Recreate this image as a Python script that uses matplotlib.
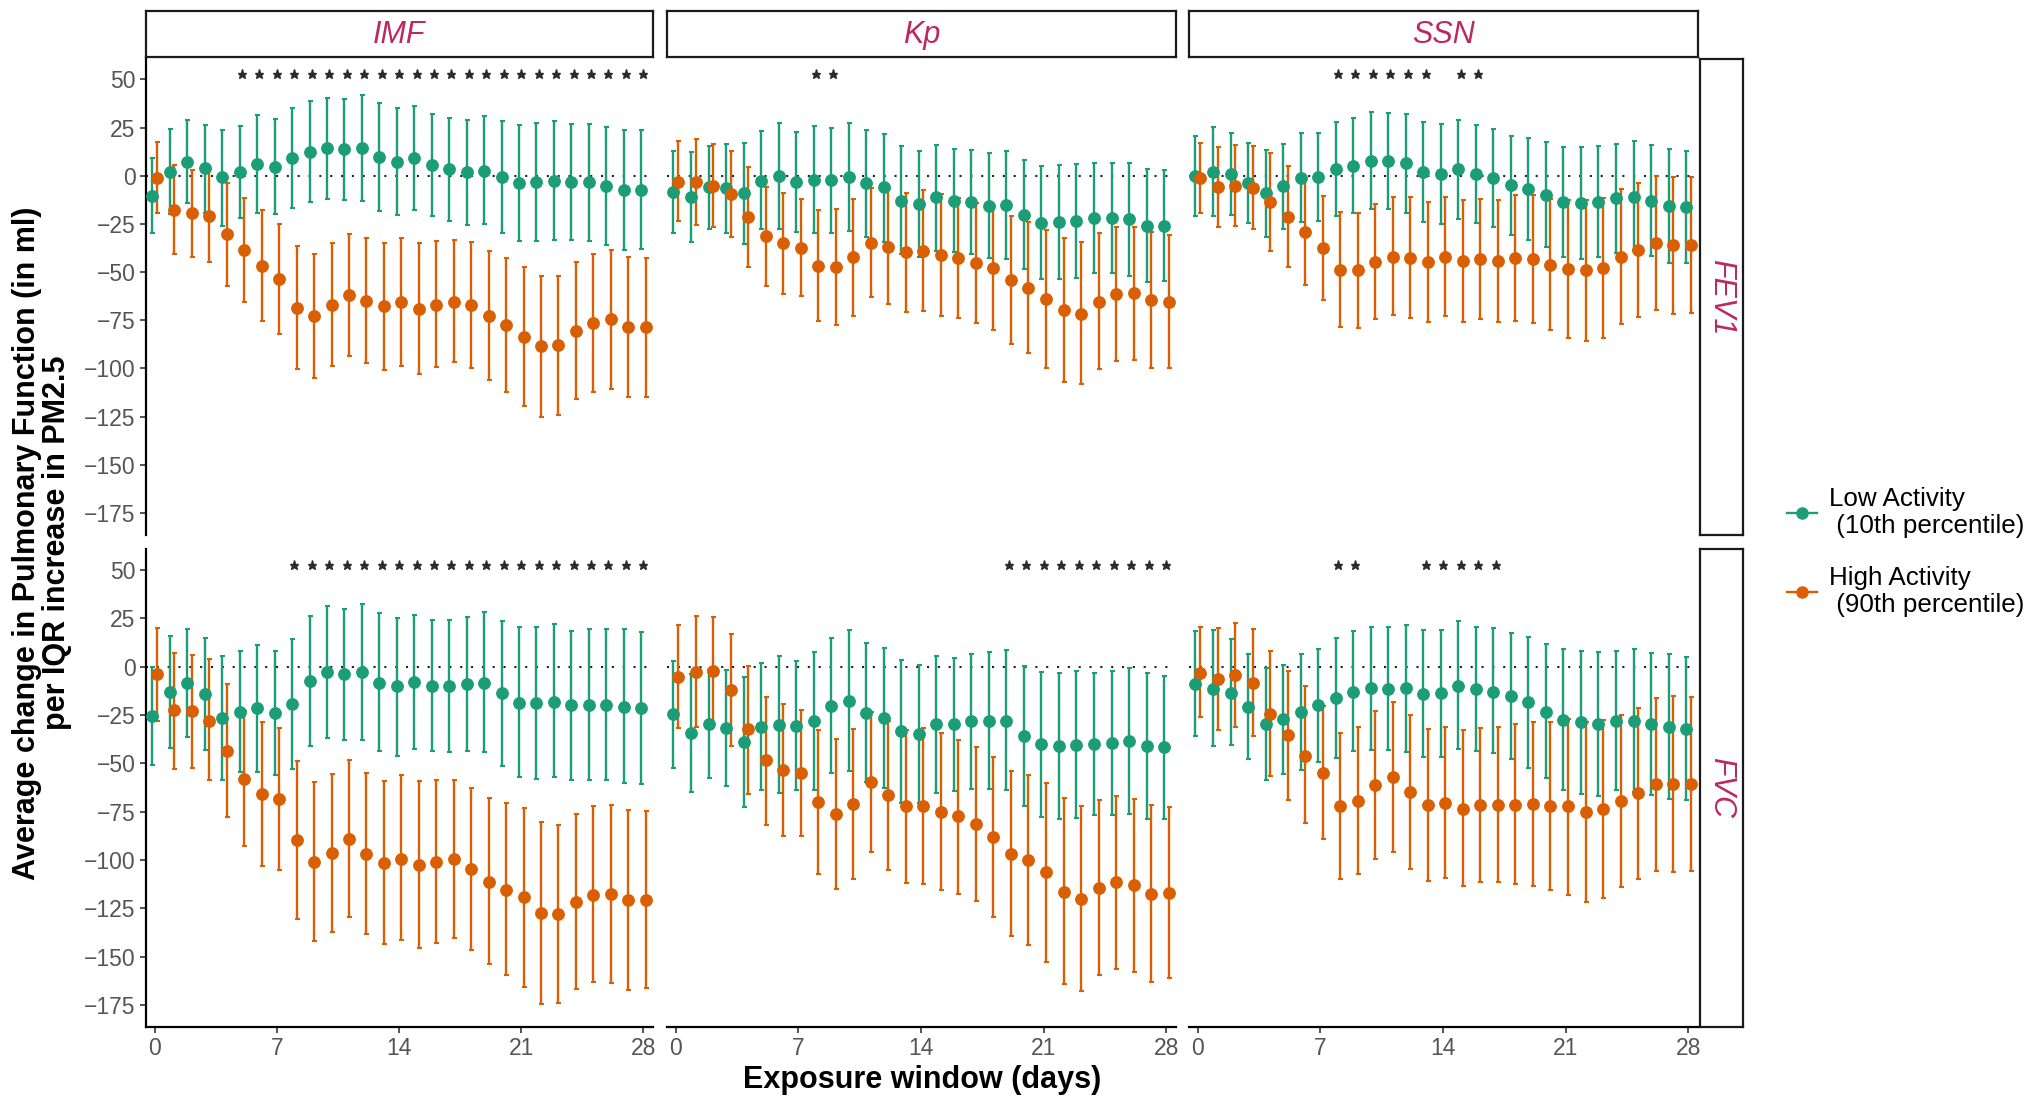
import matplotlib
matplotlib.use('Agg')
import matplotlib.pyplot as plt
from matplotlib.lines import Line2D
import numpy as np

plt.rcParams['font.family'] = ['Liberation Sans', 'DejaVu Sans']

# ---------------- data ----------------
DAYS = list(range(29))
INDICES = ['IMF', 'Kp', 'SSN']
OUTCOMES = ['FEV1', 'FVC']
GROUP_LABELS = ['Low Activity\n (10th percentile)', 'High Activity\n (90th percentile)']
X_TICKS = [0, 7, 14, 21, 28]
Y_TICKS = [50, 25, 0, -25, -50, -75, -100, -125, -150, -175]
STAR_Y = 52.5

# IMF / FEV1
IMF_FEV1_LOW_EST = [-10.4, 2.1, 7.3, 3.8, -0.9, 1.7, 5.9, 4.7, 9.3, 12.5, 14.2, 13.7, 14.5, 9.5, 7.1, 9.0, 5.5, 3.5, 1.7, 2.6, -0.5, -4.0, -3.5, -2.8, -3.5, -3.5, -5.5, -7.4, -7.4]
IMF_FEV1_LOW_LO = [-29.6, -20.0, -14.0, -19.5, -26.0, -22.0, -19.5, -20.0, -17.0, -13.7, -12.1, -12.6, -13.0, -18.3, -20.2, -18.0, -20.8, -23.4, -25.4, -25.3, -29.6, -33.9, -34.0, -33.4, -33.2, -33.9, -36.0, -38.4, -38.0]
IMF_FEV1_LOW_HI = [9.0, 24.2, 28.7, 26.1, 23.5, 26.0, 31.5, 29.2, 35.3, 38.8, 40.5, 39.8, 41.9, 37.5, 35.0, 36.0, 32.2, 29.8, 28.7, 30.8, 28.4, 26.3, 27.3, 28.4, 26.6, 27.0, 25.3, 23.7, 23.5]
IMF_FEV1_HIGH_EST = [-1.0, -17.8, -19.5, -20.9, -30.3, -38.8, -46.7, -53.6, -68.5, -72.7, -67.1, -62.1, -64.9, -67.8, -65.7, -68.9, -67.0, -65.6, -67.3, -72.7, -77.7, -83.6, -88.2, -87.9, -80.8, -76.6, -74.6, -78.4, -78.7]
IMF_FEV1_HIGH_LO = [-19.5, -40.7, -42.0, -45.0, -57.1, -65.7, -75.4, -82.0, -100.5, -104.8, -98.8, -93.4, -97.4, -100.9, -98.8, -102.8, -99.3, -96.9, -100.0, -106.0, -112.0, -119.6, -125.0, -123.9, -115.9, -112.0, -110.6, -114.7, -114.7]
IMF_FEV1_HIGH_HI = [17.5, 5.5, 2.9, 3.5, -3.6, -11.4, -17.6, -24.9, -36.7, -40.5, -35.0, -30.4, -32.5, -35.0, -32.5, -35.0, -33.9, -33.6, -34.6, -39.1, -42.9, -47.4, -51.9, -51.9, -45.0, -40.8, -38.4, -42.2, -42.9]
IMF_FEV1_STARS = [5, 6, 7, 8, 9, 10, 11, 12, 13, 14, 15, 16, 17, 18, 19, 20, 21, 22, 23, 24, 25, 26, 27, 28]

# Kp / FEV1
KP_FEV1_LOW_EST = [-8.7, -11.2, -6.1, -6.6, -9.2, -2.6, 0.0, -3.5, -2.2, -2.2, -0.5, -4.0, -6.1, -13.0, -14.9, -11.2, -13.0, -13.8, -15.6, -15.2, -20.4, -24.4, -24.2, -23.4, -22.1, -22.1, -22.7, -26.0, -26.0]
KP_FEV1_LOW_LO = [-29.9, -34.4, -27.9, -29.9, -35.3, -27.9, -27.5, -29.1, -29.6, -29.6, -28.7, -31.7, -34.3, -40.7, -42.2, -38.9, -39.6, -40.8, -42.9, -43.4, -48.4, -53.6, -53.5, -52.9, -50.7, -50.7, -51.9, -55.0, -54.5]
KP_FEV1_LOW_HI = [13.0, 12.3, 15.6, 16.3, 17.0, 23.2, 27.5, 22.7, 25.6, 24.9, 27.5, 23.9, 21.8, 15.6, 13.0, 16.1, 14.0, 13.3, 11.8, 13.0, 8.0, 4.8, 5.4, 5.9, 6.6, 6.6, 6.4, 3.3, 2.9]
KP_FEV1_HIGH_EST = [-3.1, -3.5, -5.4, -9.5, -21.6, -31.3, -35.1, -37.4, -46.9, -47.4, -42.4, -34.8, -37.2, -39.8, -38.9, -41.3, -42.6, -45.2, -48.1, -54.3, -58.3, -64.0, -69.9, -71.5, -65.4, -61.6, -61.1, -64.7, -65.4]
KP_FEV1_HIGH_LO = [-23.7, -25.4, -26.8, -32.0, -47.2, -57.1, -61.2, -62.5, -75.6, -77.7, -72.7, -63.1, -66.8, -70.8, -70.1, -72.8, -73.7, -76.3, -80.1, -87.4, -92.2, -99.8, -106.9, -108.3, -100.5, -96.2, -95.7, -100.0, -99.7]
KP_FEV1_HIGH_HI = [18.2, 18.9, 16.4, 13.0, 4.3, -5.7, -8.8, -12.1, -17.8, -17.1, -12.1, -6.4, -7.1, -9.2, -7.4, -9.7, -11.4, -14.2, -15.7, -20.8, -24.2, -28.0, -32.5, -34.3, -29.9, -26.5, -26.5, -29.1, -31.0]
KP_FEV1_STARS = [8, 9]

# SSN / FEV1
SSN_FEV1_LOW_EST = [0.0, 2.1, 0.9, -3.6, -9.2, -5.4, -1.4, -0.9, 3.5, 5.2, 7.8, 7.6, 6.4, 1.7, 0.9, 3.5, 0.9, -1.0, -4.8, -6.9, -10.0, -13.5, -14.0, -13.5, -11.8, -10.9, -13.0, -15.7, -16.1]
SSN_FEV1_LOW_LO = [-20.8, -21.1, -20.2, -24.6, -31.8, -27.7, -24.0, -23.5, -20.9, -19.4, -17.3, -17.3, -19.4, -24.0, -25.1, -22.5, -24.4, -26.5, -30.8, -33.4, -37.2, -42.0, -43.1, -42.4, -40.3, -38.6, -41.7, -45.2, -45.5]
SSN_FEV1_LOW_HI = [20.8, 25.1, 22.1, 17.0, 13.3, 16.3, 22.1, 22.1, 27.9, 29.8, 32.9, 32.7, 32.2, 27.9, 26.8, 29.1, 26.1, 24.2, 20.8, 19.6, 17.3, 15.1, 15.1, 15.6, 16.3, 17.8, 15.7, 13.7, 13.0]
SSN_FEV1_HIGH_EST = [-1.4, -6.1, -5.4, -6.2, -13.8, -21.3, -29.4, -37.7, -49.0, -49.0, -44.6, -42.0, -42.6, -44.6, -42.4, -44.1, -43.3, -44.1, -42.9, -43.3, -46.4, -48.6, -49.1, -48.1, -42.0, -38.6, -34.8, -36.2, -36.2]
SSN_FEV1_HIGH_LO = [-19.5, -26.8, -26.1, -27.9, -39.1, -47.4, -56.9, -64.7, -78.7, -78.9, -74.6, -72.5, -73.7, -75.8, -73.0, -75.8, -74.6, -75.8, -75.3, -76.6, -80.1, -84.3, -85.6, -84.3, -77.0, -73.2, -69.7, -71.8, -71.3]
SSN_FEV1_HIGH_HI = [16.8, 14.7, 15.7, 15.6, 11.6, 5.2, -1.4, -10.4, -19.0, -19.4, -14.7, -11.1, -11.1, -13.5, -11.1, -12.5, -11.9, -12.5, -10.2, -9.9, -12.1, -12.8, -12.8, -11.4, -6.9, -4.0, 0.0, -0.5, -0.5]
SSN_FEV1_STARS = [8, 9, 10, 11, 12, 13, 15, 16]

# IMF / FVC
IMF_FVC_LOW_EST = [-25.8, -13.3, -8.6, -14.3, -26.7, -23.4, -21.5, -24.1, -19.3, -7.7, -2.9, -4.0, -2.9, -8.3, -10.3, -8.1, -10.3, -10.3, -9.1, -8.3, -13.9, -18.6, -18.9, -18.1, -19.8, -19.8, -19.8, -20.7, -21.5]
IMF_FVC_LOW_LO = [-50.8, -42.0, -36.5, -43.4, -58.5, -54.4, -54.6, -55.9, -53.0, -41.3, -37.0, -37.9, -38.2, -43.9, -46.0, -42.7, -43.9, -44.4, -43.9, -44.4, -51.3, -57.3, -58.2, -57.3, -58.5, -58.5, -58.9, -60.2, -60.9]
IMF_FVC_LOW_HI = [0.0, 15.7, 19.3, 14.8, 5.7, 7.9, 11.4, 7.9, 14.5, 26.0, 31.2, 29.6, 32.4, 27.5, 25.1, 26.5, 23.9, 23.9, 25.6, 28.2, 23.6, 20.3, 20.3, 22.0, 18.6, 19.3, 19.3, 19.3, 17.9]
IMF_FVC_HIGH_EST = [-3.8, -22.7, -22.9, -28.1, -43.5, -58.0, -66.1, -68.3, -89.8, -101.0, -96.4, -89.0, -96.7, -101.5, -99.3, -102.8, -101.0, -99.5, -104.6, -111.2, -115.3, -119.3, -127.7, -128.2, -121.7, -117.9, -117.6, -120.8, -120.5]
IMF_FVC_HIGH_LO = [-28.1, -53.0, -52.2, -58.9, -78.0, -92.9, -103.3, -105.3, -130.5, -142.0, -137.3, -129.4, -138.2, -143.7, -141.5, -145.8, -143.2, -140.3, -146.6, -153.7, -159.6, -165.6, -174.4, -174.2, -166.6, -163.3, -163.5, -167.3, -166.4]
IMF_FVC_HIGH_HI = [19.8, 7.2, 6.2, 3.8, -9.0, -23.1, -28.9, -31.7, -48.9, -59.9, -55.8, -48.4, -55.1, -59.2, -56.3, -59.2, -58.5, -58.5, -62.8, -68.0, -70.6, -73.0, -80.6, -82.1, -76.4, -72.3, -71.8, -74.4, -74.7]
IMF_FVC_STARS = [8, 9, 10, 11, 12, 13, 14, 15, 16, 17, 18, 19, 20, 21, 22, 23, 24, 25, 26, 27, 28]

# Kp / FVC
KP_FVC_LOW_EST = [-24.4, -34.4, -29.6, -31.8, -39.1, -31.3, -30.1, -30.5, -28.4, -20.3, -17.7, -23.8, -26.7, -33.2, -34.8, -29.8, -29.8, -28.4, -28.1, -28.1, -35.8, -40.1, -41.0, -40.4, -39.9, -39.6, -38.4, -41.3, -41.8]
KP_FVC_LOW_LO = [-52.3, -64.9, -57.7, -61.8, -72.8, -64.0, -65.4, -64.0, -63.7, -55.1, -54.2, -59.9, -62.8, -70.6, -70.6, -65.4, -64.5, -63.3, -63.2, -63.7, -71.9, -77.8, -78.8, -78.3, -76.9, -76.6, -76.1, -78.8, -78.8]
KP_FVC_LOW_HI = [3.1, -4.1, -1.7, -1.7, -5.2, 1.7, 5.3, 3.1, 7.4, 14.8, 18.8, 12.4, 9.6, 3.6, 0.9, 5.5, 4.6, 6.5, 7.4, 8.6, 0.5, -2.6, -3.4, -2.2, -3.1, -2.1, -0.5, -3.4, -4.8]
KP_FVC_HIGH_EST = [-5.2, -2.6, -2.1, -12.0, -32.4, -48.5, -53.4, -55.1, -70.1, -76.2, -70.9, -59.7, -66.6, -72.3, -72.3, -75.2, -77.5, -81.4, -88.1, -96.9, -100.2, -106.4, -116.5, -120.0, -114.5, -111.5, -113.1, -117.6, -117.0]
KP_FVC_HIGH_LO = [-31.8, -31.5, -29.6, -41.0, -65.7, -81.8, -87.4, -87.4, -107.1, -115.0, -109.8, -96.0, -105.0, -111.9, -112.2, -115.7, -117.4, -121.0, -129.4, -139.4, -144.1, -152.7, -164.4, -167.8, -159.7, -156.3, -157.8, -163.2, -161.3]
KP_FVC_HIGH_HI = [21.5, 26.3, 25.8, 16.9, 0.5, -15.5, -19.3, -22.7, -32.7, -37.5, -32.2, -23.6, -28.4, -33.0, -31.8, -34.4, -37.9, -41.7, -46.8, -53.9, -55.9, -60.1, -68.0, -72.3, -68.8, -66.8, -68.3, -71.8, -72.6]
KP_FVC_STARS = [19, 20, 21, 22, 23, 24, 25, 26, 27, 28]

# SSN / FVC
SSN_FVC_LOW_EST = [-8.9, -11.5, -13.8, -20.7, -29.8, -27.2, -23.6, -19.8, -16.0, -12.9, -11.2, -11.5, -11.2, -14.1, -13.8, -9.8, -11.7, -12.9, -15.1, -18.4, -23.6, -27.5, -28.9, -29.8, -28.1, -27.9, -29.8, -31.3, -32.2]
SSN_FVC_LOW_LO = [-35.8, -41.3, -40.4, -47.7, -58.5, -55.6, -53.7, -49.1, -47.3, -43.9, -43.0, -43.4, -44.2, -47.0, -47.0, -42.5, -43.5, -44.8, -47.8, -52.2, -57.8, -63.7, -65.7, -66.8, -64.0, -64.9, -66.3, -68.5, -69.2]
SSN_FVC_LOW_HI = [18.4, 18.9, 14.3, 6.4, -0.5, 0.9, 6.5, 9.1, 15.0, 18.4, 20.7, 20.3, 21.5, 18.9, 18.9, 23.6, 20.3, 19.8, 17.6, 15.3, 11.5, 9.0, 8.1, 7.4, 8.1, 9.0, 7.1, 6.4, 5.2]
SSN_FVC_HIGH_EST = [-3.1, -6.5, -4.3, -8.6, -24.4, -35.6, -46.0, -55.1, -72.3, -69.4, -61.4, -57.1, -64.9, -71.4, -70.6, -73.5, -71.4, -71.4, -71.4, -71.1, -72.3, -72.3, -75.4, -73.7, -69.7, -65.4, -60.8, -60.6, -60.8]
SSN_FVC_HIGH_LO = [-26.2, -33.0, -31.0, -36.1, -56.8, -68.8, -80.9, -89.2, -109.8, -107.1, -99.5, -95.9, -104.5, -111.0, -109.3, -113.6, -111.4, -111.5, -112.7, -113.3, -115.7, -117.9, -121.9, -119.9, -114.1, -109.8, -105.5, -106.2, -105.5]
SSN_FVC_HIGH_HI = [20.3, 20.1, 22.7, 19.3, 8.3, -2.1, -10.0, -20.3, -34.1, -31.5, -23.2, -18.4, -25.0, -32.2, -31.0, -33.0, -31.8, -31.3, -29.8, -28.9, -28.9, -27.2, -28.9, -27.5, -25.3, -21.2, -16.4, -15.0, -15.5]
SSN_FVC_STARS = [8, 9, 13, 14, 15, 16, 17]

PANELS = {
    ('FEV1', 'IMF'): (IMF_FEV1_LOW_EST, IMF_FEV1_LOW_LO, IMF_FEV1_LOW_HI, IMF_FEV1_HIGH_EST, IMF_FEV1_HIGH_LO, IMF_FEV1_HIGH_HI, IMF_FEV1_STARS),
    ('FEV1', 'Kp'): (KP_FEV1_LOW_EST, KP_FEV1_LOW_LO, KP_FEV1_LOW_HI, KP_FEV1_HIGH_EST, KP_FEV1_HIGH_LO, KP_FEV1_HIGH_HI, KP_FEV1_STARS),
    ('FEV1', 'SSN'): (SSN_FEV1_LOW_EST, SSN_FEV1_LOW_LO, SSN_FEV1_LOW_HI, SSN_FEV1_HIGH_EST, SSN_FEV1_HIGH_LO, SSN_FEV1_HIGH_HI, SSN_FEV1_STARS),
    ('FVC', 'IMF'): (IMF_FVC_LOW_EST, IMF_FVC_LOW_LO, IMF_FVC_LOW_HI, IMF_FVC_HIGH_EST, IMF_FVC_HIGH_LO, IMF_FVC_HIGH_HI, IMF_FVC_STARS),
    ('FVC', 'Kp'): (KP_FVC_LOW_EST, KP_FVC_LOW_LO, KP_FVC_LOW_HI, KP_FVC_HIGH_EST, KP_FVC_HIGH_LO, KP_FVC_HIGH_HI, KP_FVC_STARS),
    ('FVC', 'SSN'): (SSN_FVC_LOW_EST, SSN_FVC_LOW_LO, SSN_FVC_LOW_HI, SSN_FVC_HIGH_EST, SSN_FVC_HIGH_LO, SSN_FVC_HIGH_HI, SSN_FVC_STARS),
}

# ---------------- style ----------------
GREEN = '#1B9E77'
ORANGE = '#D95F02'
STRIP_COL = '#BC2860'
TICK_COL = '#555555'
W, H = 2040, 1104

COL_X = [(146, 653), (667, 1176), (1189, 1698)]
ROW_Y = [(58.5, 535), (549, 1027)]
STRIP_TOP = (11, 57)
STRIP_RIGHT = (1700, 1743)
XLIM = (-0.5, 28.55)
YLIM = (-186.4, 60.8)
DODGE = 0.13

fig = plt.figure(figsize=(W / 100, H / 100), dpi=100)


def rect(x0, y0, x1, y1):
    return [x0 / W, 1 - y1 / H, (x1 - x0) / W, (y1 - y0) / H]


def draw_group(ax, est, lo, hi, color, off):
    est = np.asarray(est)
    lo = np.asarray(lo)
    hi = np.asarray(hi)
    x = np.asarray(DAYS) + off
    ax.errorbar(x, est, yerr=[est - lo, hi - est], fmt='o', color=color,
                ecolor=color, ms=8.2, elinewidth=1.7, capsize=1.8,
                capthick=1.5, mec=color, zorder=3)


for r, outcome in enumerate(OUTCOMES):
    for c, idx in enumerate(INDICES):
        x0, x1 = COL_X[c]
        y0, y1 = ROW_Y[r]
        ax = fig.add_axes(rect(x0, y0, x1, y1))
        le, ll, lh, he, hl, hh, stars = PANELS[(outcome, idx)]
        ax.axhline(0, color='#222222', ls=(0, (1, 4.2)), lw=1.5, zorder=1)
        draw_group(ax, le, ll, lh, GREEN, -DODGE)
        draw_group(ax, he, hl, hh, ORANGE, DODGE)
        ax.plot(stars, [STAR_Y] * len(stars), ls='none', marker='*',
                ms=6.5, color='#2b2b2b', mec='#2b2b2b', zorder=4)
        ax.set_xlim(*XLIM)
        ax.set_ylim(*YLIM)
        for s in ['top', 'right']:
            ax.spines[s].set_visible(False)
        ax.spines['left'].set_visible(c == 0)
        ax.spines['bottom'].set_visible(r == 1)
        ax.spines['left'].set_linewidth(1.6)
        ax.spines['bottom'].set_linewidth(1.6)
        ax.set_xticks(X_TICKS)
        ax.set_yticks(Y_TICKS)
        ax.tick_params(axis='both', colors='#333333', labelcolor=TICK_COL,
                       labelsize=16.5, length=4.5, width=1.2, pad=3)
        if r == 0:
            ax.tick_params(axis='x', bottom=False, labelbottom=False)
        if c != 0:
            ax.tick_params(axis='y', left=False, labelleft=False)
        ax.set_facecolor('none')

        # top strips
        if r == 0:
            sax = fig.add_axes(rect(x0, STRIP_TOP[0], x1, STRIP_TOP[1]))
            sax.set_xticks([])
            sax.set_yticks([])
            for s in sax.spines.values():
                s.set_linewidth(1.6)
                s.set_color('#1a1a1a')
            sax.text(0.5, 0.48, idx, ha='center', va='center', style='italic',
                     color=STRIP_COL, fontsize=22, transform=sax.transAxes)
    # right strips
    y0, y1 = ROW_Y[r]
    rax = fig.add_axes(rect(STRIP_RIGHT[0], y0, STRIP_RIGHT[1], y1))
    rax.set_xticks([])
    rax.set_yticks([])
    for s in rax.spines.values():
        s.set_linewidth(1.6)
        s.set_color('#1a1a1a')
    rax.text(0.5, 0.5, outcome, ha='center', va='center', style='italic',
             color=STRIP_COL, fontsize=22, rotation=-90, transform=rax.transAxes)

fig.text(42 / W, 1 - 543 / H,
         'Average change in Pulmonary Function (in ml)\nper IQR increase in PM2.5',
         rotation=90, ha='center', va='center', fontweight='bold', fontsize=22,
         linespacing=1.02)
fig.text(922 / W, 1 - 1080 / H, 'Exposure window (days)', ha='center',
         va='center', fontweight='bold', fontsize=22)

handles = [Line2D([], [], color=GREEN, marker='o', ms=8, lw=1.7),
           Line2D([], [], color=ORANGE, marker='o', ms=8, lw=1.7)]
fig.legend(handles, GROUP_LABELS, loc='center left',
           bbox_to_anchor=(1764 / W, 1 - 552 / H), frameon=False, fontsize=18.7,
           handlelength=1.15, handletextpad=0.45, labelspacing=1.05)

fig.savefig('out.png', dpi=100, facecolor='white')
